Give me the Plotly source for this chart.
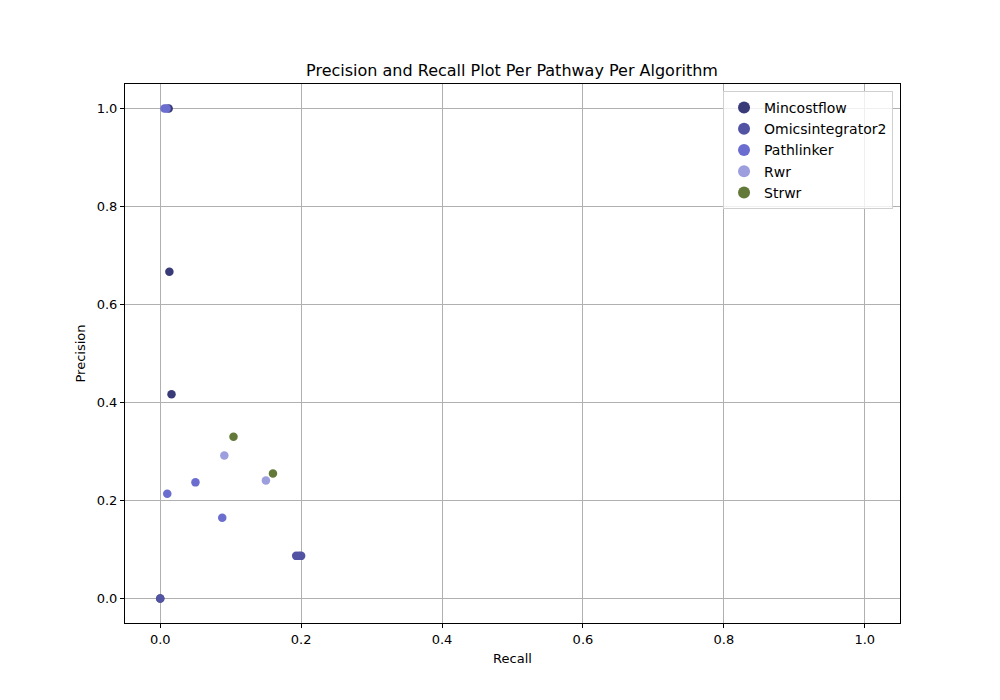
import plotly.graph_objects as go

algorithms = ["Mincostflow", "Omicsintegrator2", "Pathlinker", "Rwr", "Strwr"]
colors = ["#393b79", "#5254a3", "#6b6ecf", "#9c9ede", "#637939"]

recall = {
    "Mincostflow": [0.0, 0.012, 0.013, 0.016],
    "Omicsintegrator2": [0.0, 0.193, 0.197, 0.200],
    "Pathlinker": [0.006, 0.009, 0.010, 0.050, 0.088],
    "Rwr": [0.091, 0.150],
    "Strwr": [0.104, 0.160],
}
precision = {
    "Mincostflow": [0.0, 1.0, 0.667, 0.417],
    "Omicsintegrator2": [0.0, 0.087, 0.087, 0.087],
    "Pathlinker": [1.0, 1.0, 0.214, 0.237, 0.165],
    "Rwr": [0.292, 0.241],
    "Strwr": [0.330, 0.255],
}

tick_vals = [0.0, 0.2, 0.4, 0.6, 0.8, 1.0]
tick_text = ["0.0", "0.2", "0.4", "0.6", "0.8", "1.0"]

fig = go.Figure()
for name, col in zip(algorithms, colors):
    fig.add_trace(go.Scatter(
        x=recall[name], y=precision[name], mode="markers", name=name,
        marker=dict(color=col, size=8.5, line=dict(width=0)),
    ))

axis_common = dict(
    showgrid=True, gridcolor="#b0b0b0", gridwidth=1, zeroline=False,
    showline=True, linecolor="black", linewidth=1, mirror=True,
    ticks="outside", ticklen=4, tickcolor="black",
    tickvals=tick_vals, ticktext=tick_text,
    tickfont=dict(size=13, color="black"),
)

fig.update_layout(
    width=1000, height=700,
    paper_bgcolor="white", plot_bgcolor="white",
    font=dict(family="DejaVu Sans", color="black"),
    margin=dict(l=117, r=108, t=76, b=85),
    title=dict(text="Precision and Recall Plot Per Pathway Per Algorithm",
               x=(512 - 8) / 1000, xanchor="center", y=1 - 62/700, yanchor="middle",
               font=dict(size=16, color="black")),
    xaxis=dict(range=[-0.05, 1.05], title=dict(text="Recall", font=dict(size=13), standoff=8), **axis_common),
    yaxis=dict(range=[-0.05, 1.05], title=dict(text="Precision", font=dict(size=13), standoff=8), **axis_common),
    legend=dict(x=0.991, y=0.987, xanchor="right", yanchor="top",
                bgcolor="rgba(255,255,255,0.8)", bordercolor="#d0d0d0", borderwidth=1,
                font=dict(size=14, color="black"), itemsizing="constant",
                tracegroupgap=0),
    showlegend=True,
)

fig.write_html("out.html")
